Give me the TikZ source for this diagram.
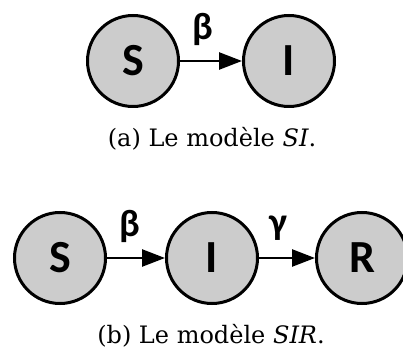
\documentclass[tikz,border=0pt]{standalone}
\usepackage{fontspec}
\setmainfont{DejaVu Serif}
\newfontfamily\statefont{Carlito}
\usetikzlibrary{arrows.meta}
\tikzstyle{compartment}=[circle,draw,line width=3pt,fill=black!20,minimum size=91pt,inner sep=0pt,font=\statefont\bfseries\fontsize{46}{46}\selectfont]
\tikzstyle{transition}=[-{Triangle[length=23pt,width=17pt]},line width=2.5pt]
\tikzstyle{ratelabel}=[font=\statefont\bfseries\fontsize{38}{38}\selectfont,inner sep=0pt]
\tikzstyle{caption}=[font=\fontsize{24}{24}\selectfont,inner sep=0pt,anchor=base]

\begin{document}
\begin{tikzpicture}[x=1pt,y=1pt]
  \useasboundingbox (0,0) rectangle (403,358);
  % (a) SI
  \node[compartment] (s1) at (133,297) {S};
  \node[compartment] (i1) at (289,297) {I};
  \draw[transition] (s1) -- (i1) node[ratelabel,pos=0.37,above=14pt] {β};
  \node[caption] (capa) at (212,211) {(a) Le modèle \textit{SI}.};
  % (b) SIR
  \node[compartment] (s2) at (60,100) {S};
  \node[compartment] (i2) at (212,100) {I};
  \node[compartment] (r2) at (362,100) {R};
  \draw[transition] (s2) -- (i2) node[ratelabel,pos=0.4,above=14pt] {β};
  \draw[transition] (i2) -- (r2) node[ratelabel,pos=0.35,above=16pt] {γ};
  \node[caption] (capb) at (211,15) {(b) Le modèle \textit{SIR}.};
\end{tikzpicture}
\end{document}
